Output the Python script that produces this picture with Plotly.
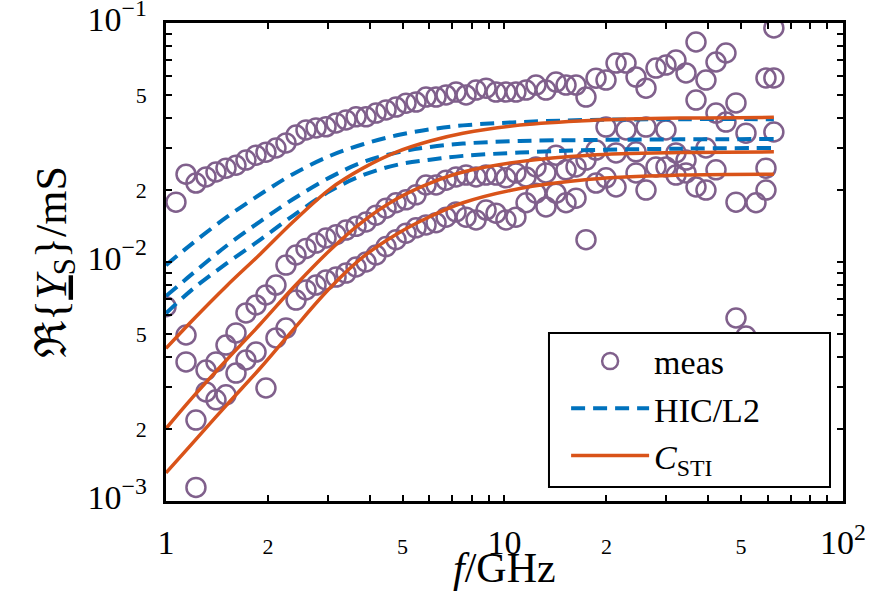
import plotly.graph_objects as go

# Measurement frequencies (GHz), log-spaced sweep
freq_meas = [1.000, 1.070, 1.146, 1.226, 1.313, 1.405, 1.504, 1.610, 1.723, 1.845,
             1.974, 2.113, 2.262, 2.422, 2.592, 2.775, 2.970, 3.180, 3.403, 3.643,
             3.899, 4.174, 4.468, 4.782, 5.119, 5.479, 5.865, 6.278, 6.720, 7.193,
             7.700, 8.242, 8.822, 9.439, 10.10, 10.81, 11.58, 12.39, 13.26, 14.20,
             15.20, 16.27, 17.41, 18.64, 19.95, 21.36, 22.86, 24.47, 26.19, 28.03,
             30.00, 32.11, 34.38, 36.80, 39.38, 42.16, 45.12, 48.30, 51.70, 55.34,
             59.23, 62.50]

# Measured Re{Y_S} in mS for three devices
re_ys_dev1 = [0.0065, 0.0178, 0.0233, 0.0214, 0.0227, 0.0238, 0.0247, 0.0254, 0.0267, 0.0280,
              0.0288, 0.0300, 0.0315, 0.0340, 0.0357, 0.0364, 0.0368, 0.0382, 0.0393, 0.0405,
              0.0405, 0.0420, 0.0433, 0.0445, 0.0462, 0.0467, 0.0490, 0.0490, 0.0500, 0.0514,
              0.0500, 0.0524, 0.0534, 0.0514, 0.0514, 0.0514, 0.0524, 0.0550, 0.0524, 0.0566,
              0.0550, 0.0550, 0.0490, 0.0588, 0.0577, 0.0680, 0.0680, 0.0594, 0.0534, 0.0648,
              0.0667, 0.0700, 0.0618, 0.0833, 0.0577, 0.0687, 0.0749, 0.0463, None, None,
              0.0589, 0.0953]
re_ys_dev2 = [None, None, 0.00495, 0.00218, 0.00353, 0.00382, 0.00449, 0.00505, 0.00612, 0.00661,
              0.00728, 0.00801, 0.00971, 0.0107, 0.0114, 0.0120, 0.0126, 0.0130, 0.0136, 0.0141,
              0.0147, 0.0157, 0.0168, 0.0177, 0.0182, 0.0191, 0.0210, 0.0210, 0.0220, 0.0227,
              0.0231, 0.0227, 0.0231, 0.0231, 0.0225, 0.0236, 0.0227, 0.0250, 0.0236, 0.0280,
              0.0243, 0.0250, 0.0267, 0.0294, 0.0367, 0.0286, 0.0357, 0.0289, 0.0367, 0.0250,
              0.0357, 0.0286, 0.0267, 0.0476, 0.0300, 0.0420, 0.0385, 0.00583, 0.0346, None,
              0.0247, 0.0589]
re_ys_dev3 = [None, None, 0.00382, 0.00114, 0.00286, 0.00265, 0.00278, 0.00343, 0.00389, 0.00420,
              0.00297, 0.00481, 0.00529, 0.00693, 0.00764, 0.00801, 0.00841, 0.00865, 0.00899, 0.00953,
              0.0100, 0.0107, 0.0116, 0.0124, 0.0132, 0.0139, 0.0143, 0.0146, 0.0154, 0.0162,
              0.0154, 0.0150, 0.0165, 0.0160, 0.0150, 0.0154, 0.0177, 0.0194, 0.0170, 0.0194,
              0.0177, 0.0185, 0.0124, 0.0214, 0.0225, 0.0206, None, 0.0236, 0.0200, None,
              0.0250, 0.0231, 0.0236, 0.0206, 0.0200, 0.0243, None, 0.0178, 0.0049, 0.0177,
              0.0200, 0.0350]

# Model frequencies (GHz)
freq_model = [1.0, 1.20, 1.51, 1.90, 2.37, 3.05, 3.82, 4.81, 6.03, 7.54, 11.1, 17.9, 33.0, 62.5]

# HIC/L2 model, three devices
hic_dev1 = [0.0097, 0.0120, 0.0154, 0.0192, 0.0233, 0.0278, 0.0311, 0.0339, 0.0359, 0.0373,
            0.0385, 0.0393, 0.0396, 0.0396]
hic_dev2 = [0.0072, 0.00896, 0.0117, 0.0148, 0.0183, 0.0226, 0.0262, 0.0287, 0.0303, 0.0313,
            0.0321, 0.0324, 0.0326, 0.0327]
hic_dev3 = [0.0061, 0.00771, 0.00986, 0.0124, 0.0156, 0.0198, 0.0231, 0.0255, 0.0268, 0.0278,
            0.0287, 0.0294, 0.0298, 0.0300]

# C_STI model, three devices
sti_dev1 = [0.00435, 0.00572, 0.00794, 0.0108, 0.0147, 0.0202, 0.0247, 0.0289, 0.0321, 0.0346,
            0.0374, 0.0391, 0.0400, 0.0403]
sti_dev2 = [0.00201, 0.00272, 0.00389, 0.0055, 0.00778, 0.0112, 0.0148, 0.0184, 0.0214, 0.0238,
            0.0263, 0.0280, 0.0287, 0.0289]
sti_dev3 = [0.00131, 0.00175, 0.00252, 0.00360, 0.00519, 0.00778, 0.0105, 0.0131, 0.0155, 0.0177,
            0.0203, 0.0222, 0.0231, 0.0233]

# Axis ticks and labels
x_tickvals = [1, 2, 5, 10, 20, 50, 100]
x_ticktext = ["1", "2", "5", "10", "2", "5", "10<sup>2</sup>"]
x_minorvals = [3, 4, 6, 7, 8, 9, 30, 40, 60, 70, 80, 90]
y_tickvals = [0.001, 0.002, 0.005, 0.01, 0.02, 0.05, 0.1]
y_ticktext = ["10<sup>\u22123</sup>", "2", "5", "10<sup>\u22122</sup>", "2", "5",
              "10<sup>\u22121</sup>"]
y_minorvals = [0.003, 0.004, 0.006, 0.007, 0.008, 0.009,
               0.03, 0.04, 0.06, 0.07, 0.08, 0.09]
decade_x = [10]
decade_y = [0.01]

MEAS = "rgb(128,96,140)"
BLUE = "#0072BD"
ORANGE = "#D95319"
FONT = "Liberation Serif"
BIG = 34
SMALL = 22

# legend frame, in paper coordinates of the plot area
LEG_X0, LEG_X1, LEG_Y0, LEG_Y1 = 0.5657, 0.9808, 0.0293, 0.3515


def big(label):
    if label in ("2", "5"):
        return label
    return '<span style="font-size:%dpx">%s</span>' % (BIG, label)


fig = go.Figure()

for k, ys in enumerate([re_ys_dev1, re_ys_dev2, re_ys_dev3]):
    fig.add_trace(go.Scatter(
        x=freq_meas, y=ys, mode="markers", name="meas", legendgroup="meas",
        showlegend=(k == 0),
        marker=dict(symbol="circle-open", size=19, color=MEAS,
                    line=dict(width=2.5, color=MEAS)),
    ))

for k, ys in enumerate([hic_dev1, hic_dev2, hic_dev3]):
    fig.add_trace(go.Scatter(
        x=freq_model, y=ys, mode="lines", name="HIC/L2", legendgroup="hic",
        showlegend=(k == 0), line_shape="spline",
        line=dict(color=BLUE, width=4, dash="14px,8px"),
    ))

for k, ys in enumerate([sti_dev1, sti_dev2, sti_dev3]):
    fig.add_trace(go.Scatter(
        x=freq_model, y=ys, mode="lines", name="<i>C</i><sub>STI</sub>", legendgroup="sti",
        showlegend=(k == 0), line_shape="spline",
        line=dict(color=ORANGE, width=3.5),
    ))

axis_common = dict(
    type="log", showgrid=False, zeroline=False, showline=True, linecolor="black",
    linewidth=2.5, mirror="ticks", ticks="inside", ticklen=6, tickwidth=2,
    tickcolor="black", tickfont=dict(family=FONT, size=SMALL, color="black"),
    tickmode="array", automargin=False, ticklabeloverflow="allow",
)

fig.update_layout(
    width=888, height=593,
    margin=dict(l=166, r=45, t=23, b=92),
    paper_bgcolor="white", plot_bgcolor="white",
    font=dict(family=FONT, color="black"),
    xaxis=dict(
        axis_common, range=[0, 2.0001], tickvals=x_tickvals,
        ticktext=[big(t) for t in x_ticktext], ticklabelstandoff=24,
        minor=dict(tickmode="array", tickvals=x_minorvals, ticks="inside",
                   ticklen=6, tickwidth=2, tickcolor="black", showgrid=False),
    ),
    yaxis=dict(
        axis_common, range=[-3.0001, -0.9999], tickvals=y_tickvals,
        ticktext=[big(t) for t in y_ticktext], ticklabelstandoff=12,
        minor=dict(tickmode="array", tickvals=y_minorvals, ticks="inside",
                   ticklen=6, tickwidth=2, tickcolor="black", showgrid=False),
        title=dict(
            text="\u211c{<span style=\"text-decoration:underline\"><i>Y</i></span>"
                 "<sub>S</sub>}/mS",
            font=dict(family=FONT, size=44), standoff=8),
    ),
    # longer ticks at the inner decades
    xaxis2=dict(
        type="log", range=[0, 2.0001], overlaying="x", anchor="y", side="bottom",
        tickmode="array", tickvals=decade_x, ticks="inside", ticklen=11,
        tickwidth=2, tickcolor="black", mirror="ticks", showline=False,
        showgrid=False, zeroline=False, showticklabels=False,
    ),
    yaxis2=dict(
        type="log", range=[-3.0001, -0.9999], overlaying="y", anchor="x", side="left",
        tickmode="array", tickvals=decade_y, ticks="inside", ticklen=11,
        tickwidth=2, tickcolor="black", mirror="ticks", showline=False,
        showgrid=False, zeroline=False, showticklabels=False,
    ),
    # legend frame drawn over the data, entries placed inside it
    shapes=[dict(
        type="rect", xref="paper", yref="paper", x0=LEG_X0, x1=LEG_X1,
        y0=LEG_Y0, y1=LEG_Y1, fillcolor="white", line=dict(color="black", width=2),
        layer="above",
    )],
    legend=dict(
        x=0.591, y=0.3525, xanchor="left", yanchor="top",
        bgcolor="rgba(0,0,0,0)", borderwidth=0,
        font=dict(family=FONT, size=34, color="black"),
        tracegroupgap=0, itemwidth=78,
    ),
    annotations=[dict(
        text="<i>f</i>/GHz", xref="paper", yref="paper", x=0.5, y=-0.1925,
        xanchor="center", yanchor="bottom", showarrow=False,
        font=dict(family=FONT, size=42, color="black"),
    )],
    showlegend=True,
)

fig.write_html("out.html")
